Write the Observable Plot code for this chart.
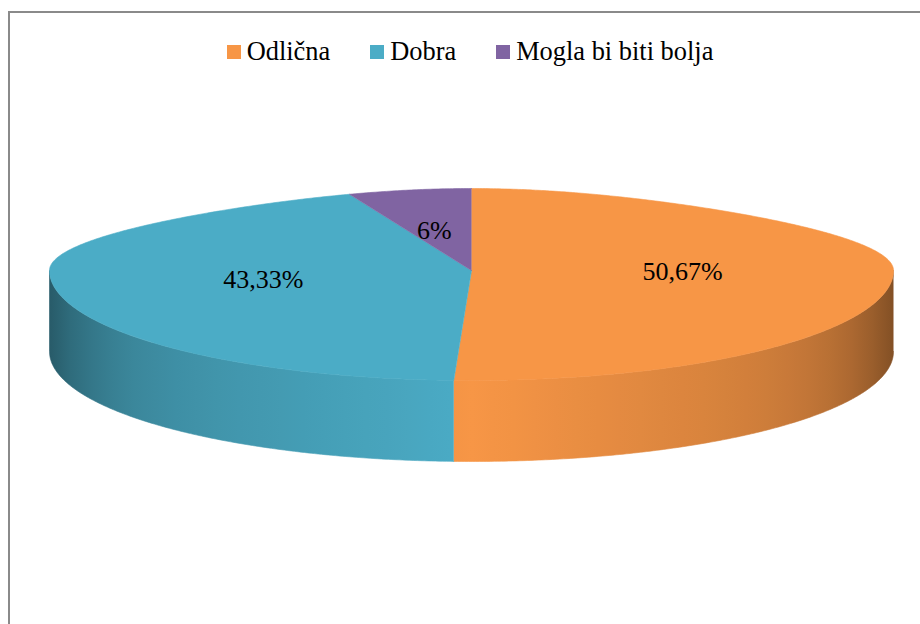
<!DOCTYPE html>
<html><head><meta charset="utf-8">
<script src="https://cdn.jsdelivr.net/npm/d3@7"></script>
<script src="https://cdn.jsdelivr.net/npm/@observablehq/plot@0.6"></script>
<style>
html, body {margin:0; padding:0; width:920px; height:624px; overflow:hidden; background:#fff;}
#frame {position:absolute; left:8px; top:11px; width:1000px; height:1000px; border-left:2px solid #8a8a8a; border-top:2px solid #8a8a8a;}
#legend {position:absolute; left:0; top:35px; width:940px; display:flex; justify-content:center;}
#legend > div {font-family:"Liberation Serif","Times New Roman",serif !important; font-size:26.4px !important; color:#000 !important; margin:0 !important; justify-content:center;}
#legend span {font-family:"Liberation Serif","Times New Roman",serif !important; margin-right:40px !important;}
#legend span:last-child {margin-right:0 !important;}
#legend span > svg {margin-right:6px !important;}
#chart {position:absolute; left:0; top:80px;}
</style></head>
<body>
<div id="frame"></div>
<div id="legend"></div>
<div id="chart"></div>
<script>
// ---- data ----
const categories = ["Odlična", "Dobra", "Mogla bi biti bolja"];
const values = [50.67, 43.33, 6];
const valueLabels = ["50,67%", "43,33%", "6%"];
const palette = ["#F79646", "#4BACC6", "#8064A2"];

// ---- layout (pixels) ----
const W = 920, H = 544;
const CX = 471, CY = 190, R = 422;
const K_TOP = 82 / R, K_BOT = 110 / R, DEPTH = 81 / R, PERSP = 0.248;
const SERIF = '"Liberation Serif", "Times New Roman", serif';

// perspective-like projection of a point of the unit disc (angle clockwise from 12 o'clock)
function proj(theta, r = 1) {
  const s = r * Math.sin(theta), u = r * Math.cos(theta);
  const X = s * (u > 0 ? 1 - PERSP * u * u : 1);
  const Y = u > 0 ? u * K_TOP : u * K_BOT;
  return [X, Y];
}
const arcs = d3.pie().sort(null).value(d => d)(values);
const STEP = Math.PI / 360;
function arcAngles(a0, a1) {
  const n = Math.max(2, Math.ceil((a1 - a0) / STEP));
  return d3.range(n + 1).map(i => a0 + (a1 - a0) * i / n);
}

const tops = [], walls = [], labels = [];
arcs.forEach((a, i) => {
  const cat = categories[i];
  [[0, 0], ...arcAngles(a.startAngle, a.endAngle).map(t => proj(t))]
    .forEach(([x, y]) => tops.push({cat, x, y}));
  const w0 = Math.max(a.startAngle, Math.PI / 2), w1 = Math.min(a.endAngle, 3 * Math.PI / 2);
  if (w1 > w0) {
    const ts = arcAngles(w0, w1);
    const upper = ts.map(t => proj(t));
    const lower = ts.slice().reverse().map(t => { const [x, y] = proj(t); return [x, y - DEPTH]; });
    [...upper, ...lower].forEach(([x, y]) => walls.push({cat, i, x, y}));
  }
  const mid = (a.startAngle + a.endAngle) / 2;
  const [lx, ly] = proj(mid, 0.5);
  labels.push({cat, x: lx, y: ly, text: valueLabels[i]});
});

const shade = t => 1 - 0.22 * Math.abs(t) - 0.25 * Math.pow(t, 8);

const wallMarks = categories.map((cat, i) => {
  const d = walls.filter(w => w.cat === cat);
  return d.length ? Plot.line(d, {x: "x", y: "y", fill: `url(#wall${i})`, stroke: `url(#wall${i})`, strokeWidth: 0.6}) : null;
}).filter(Boolean);

const chart = Plot.plot({
  width: W, height: H, margin: 0,
  x: {domain: [-CX / R, (W - CX) / R], axis: null},
  y: {domain: [-(H - CY) / R, CY / R], axis: null},
  color: {domain: categories, range: palette},
  style: {overflow: "visible", background: "transparent", fontFamily: SERIF},
  marks: [
    ...wallMarks,
    Plot.line(tops, {x: "x", y: "y", z: "cat", fill: "cat", stroke: "cat", strokeWidth: 0.6}),
    Plot.text(labels, {x: "x", y: "y", text: "text", fontSize: 26, fontFamily: SERIF, fill: "#000", textAnchor: "middle", lineAnchor: "middle"})
  ]
});

// side-wall gradients (shaded copies of the slice colour)
const ns = "http://www.w3.org/2000/svg";
const defs = document.createElementNS(ns, "defs");
palette.forEach((col, i) => {
  const g = document.createElementNS(ns, "linearGradient");
  g.setAttribute("id", `wall${i}`);
  g.setAttribute("gradientUnits", "userSpaceOnUse");
  g.setAttribute("x1", CX - R); g.setAttribute("x2", CX + R);
  g.setAttribute("y1", 0); g.setAttribute("y2", 0);
  d3.range(0, 41).forEach(k => {
    const t = -1 + k / 20;
    const c = d3.rgb(col), f = shade(t);
    const stop = document.createElementNS(ns, "stop");
    stop.setAttribute("offset", (k / 40).toFixed(3));
    stop.setAttribute("stop-color", d3.rgb(c.r * f, c.g * f, c.b * f).formatHex());
    g.appendChild(stop);
  });
  defs.appendChild(g);
});
chart.insertBefore(defs, chart.firstChild);
document.getElementById("chart").append(chart);

document.getElementById("legend").append(
  Plot.legend({color: {type: "ordinal", domain: categories, range: palette}, swatchSize: 14})
);
</script>
</body></html>
